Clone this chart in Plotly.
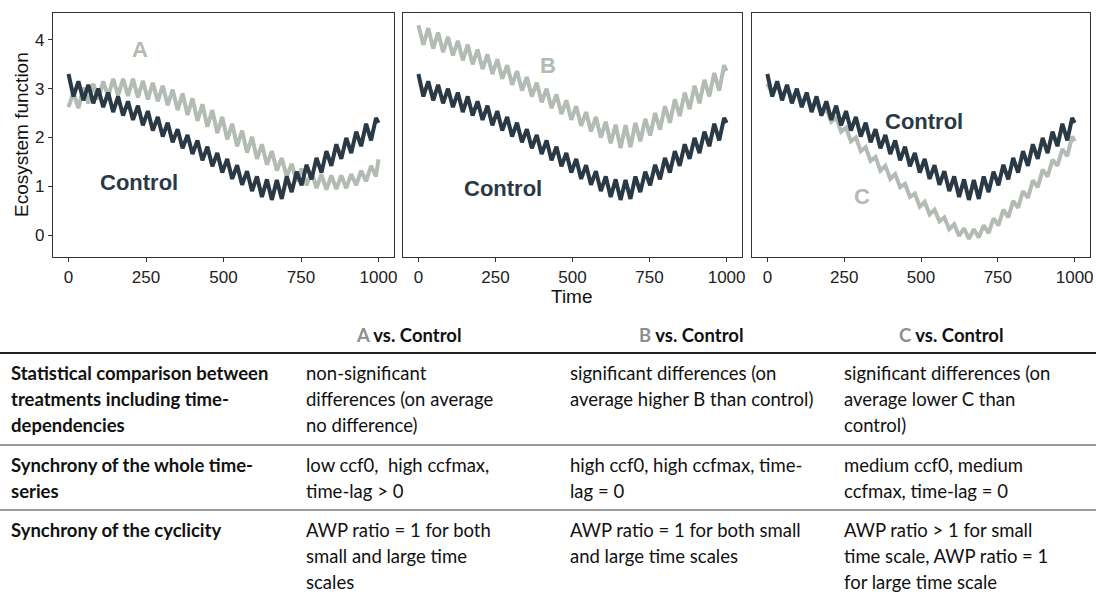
import plotly.graph_objects as go

# ---------------- data ----------------
time = [0, 16, 32, 48, 64, 80, 96, 112, 128, 144, 160, 176, 192, 208, 224, 240,
        256, 272, 288, 304, 320, 336, 352, 368, 384, 400, 416, 432, 448, 464, 480, 496,
        512, 528, 544, 560, 576, 592, 608, 624, 640, 656, 672, 688, 704, 720, 736, 752,
        768, 784, 800, 816, 832, 848, 864, 880, 896, 912, 928, 944, 960, 976, 992, 1000]

control = [3.30, 2.84, 3.15, 2.76, 3.08, 2.70, 3.00, 2.62, 2.92, 2.52, 2.84, 2.45, 2.74, 2.36, 2.65, 2.25,
           2.54, 2.14, 2.42, 2.02, 2.30, 1.90, 2.17, 1.78, 2.05, 1.66, 1.94, 1.53, 1.81, 1.41, 1.68, 1.28,
           1.56, 1.15, 1.43, 1.03, 1.31, 0.90, 1.20, 0.78, 1.14, 0.72, 1.13, 0.74, 1.20, 0.88, 1.30, 1.02,
           1.44, 1.14, 1.58, 1.28, 1.72, 1.42, 1.86, 1.56, 1.99, 1.68, 2.12, 1.82, 2.28, 1.94, 2.40, 2.30]

treat_a = [2.62, 2.92, 2.60, 3.02, 2.70, 3.10, 2.78, 3.15, 2.84, 3.20, 2.86, 3.20, 2.85, 3.20, 2.82, 3.16,
           2.78, 3.12, 2.74, 3.06, 2.66, 2.98, 2.56, 2.90, 2.46, 2.80, 2.34, 2.68, 2.22, 2.56, 2.09, 2.42,
           1.96, 2.28, 1.82, 2.14, 1.69, 2.01, 1.56, 1.86, 1.44, 1.72, 1.32, 1.58, 1.20, 1.46, 1.10, 1.36,
           1.02, 1.29, 0.96, 1.24, 0.93, 1.22, 0.94, 1.22, 0.96, 1.25, 1.02, 1.32, 1.10, 1.42, 1.20, 1.55]

treat_b = [4.30, 3.90, 4.24, 3.82, 4.15, 3.75, 4.06, 3.68, 3.98, 3.58, 3.90, 3.50, 3.80, 3.40, 3.70, 3.30,
           3.60, 3.20, 3.48, 3.08, 3.36, 2.96, 3.24, 2.84, 3.12, 2.72, 3.00, 2.60, 2.88, 2.48, 2.76, 2.36,
           2.64, 2.24, 2.52, 2.12, 2.42, 2.00, 2.32, 1.88, 2.26, 1.78, 2.25, 1.80, 2.30, 1.92, 2.38, 2.04,
           2.50, 2.16, 2.64, 2.30, 2.78, 2.44, 2.92, 2.58, 3.06, 2.70, 3.18, 2.84, 3.32, 2.96, 3.48, 3.36]

treat_c = [3.10, 2.90, 3.08, 2.85, 3.02, 2.80, 2.95, 2.72, 2.85, 2.60, 2.72, 2.48, 2.58, 2.32, 2.40, 2.12,
           2.20, 1.92, 2.00, 1.72, 1.80, 1.52, 1.60, 1.32, 1.42, 1.15, 1.25, 0.98, 1.05, 0.78, 0.85, 0.58,
           0.68, 0.42, 0.52, 0.28, 0.36, 0.12, 0.22, -0.02, 0.14, -0.08, 0.12, -0.05, 0.20, 0.04, 0.34, 0.20,
           0.52, 0.36, 0.70, 0.56, 0.90, 0.76, 1.12, 0.98, 1.34, 1.20, 1.54, 1.42, 1.76, 1.62, 2.02, 1.92]

treat_names = ["A", "B", "C"]
x_ticks = [0, 250, 500, 750, 1000]
y_ticks = [0, 1, 2, 3, 4]

# table content
row_labels = [
    ["Statistical comparison between", "treatments including time-", "dependencies"],
    ["Synchrony of the whole time-", "series"],
    ["Synchrony of the cyclicity"],
]
table_cells = [
    [["non-significant", "differences (on average", "no difference)"],
     ["significant differences (on", "average higher B than control)"],
     ["significant differences (on", "average lower C than", "control)"]],
    [["low ccf0,  high ccfmax,", "time-lag > 0"],
     ["high ccf0, high ccfmax, time-", "lag = 0"],
     ["medium ccf0, medium", "ccfmax, time-lag = 0"]],
    [["AWP ratio = 1 for both", "small and large time", "scales"],
     ["AWP ratio = 1 for both small", "and large time scales"],
     ["AWP ratio > 1 for small", "time scale, AWP ratio = 1", "for large time scale"]],
]

# ---------------- styling ----------------
W, H = 1096, 595
DARK = "#2a3946"
LIGHT = "#b2bbb4"
AXC = "#333333"
CHART_FONT = "Liberation Sans"
TABLE_FONT = "Lato"


def px(x):
    return x / W


def py(y):
    return 1 - y / H


fig = go.Figure()

treatments = [treat_a, treat_b, treat_c]
for i, (name, vals) in enumerate(zip(treat_names, treatments)):
    xa = "x" if i == 0 else f"x{i+1}"
    ya = "y" if i == 0 else f"y{i+1}"
    fig.add_trace(go.Scatter(x=time, y=vals, mode="lines", xaxis=xa, yaxis=ya,
                             line=dict(color=LIGHT, width=4), name=name, showlegend=False))
    fig.add_trace(go.Scatter(x=time, y=control, mode="lines", xaxis=xa, yaxis=ya,
                             line=dict(color=DARK, width=4), name="Control", showlegend=False))

# panel domains (pixels)
panels_x = [(53, 394), (403, 742), (752, 1090)]
y_dom = [py(257), py(13)]
xr = [-50, 1050]
yr = [-0.45, 4.55]

layout = dict(
    width=W, height=H, margin=dict(l=0, r=0, t=0, b=0, autoexpand=False),
    paper_bgcolor="white", plot_bgcolor="white",
    showlegend=False, font=dict(family=CHART_FONT),
)
for i, (a, b) in enumerate(panels_x):
    xk = "xaxis" if i == 0 else f"xaxis{i+1}"
    yk = "yaxis" if i == 0 else f"yaxis{i+1}"
    layout[xk] = dict(
        domain=[px(a), px(b)], range=xr, tickvals=x_ticks, ticks="outside", ticklen=4,
        tickcolor=AXC, tickwidth=1, showline=True, mirror=True, linecolor=AXC, linewidth=1.3,
        showgrid=False, zeroline=False, anchor="y" if i == 0 else f"y{i+1}",
        automargin=False,
        tickfont=dict(family=CHART_FONT, size=17, color="#222"),
    )
    layout[yk] = dict(
        domain=y_dom, range=yr, tickvals=y_ticks, showline=True, mirror=True,
        linecolor=AXC, linewidth=1.3, showgrid=False, zeroline=False,
        anchor="x" if i == 0 else f"x{i+1}", automargin=False,
        ticks="outside" if i == 0 else "", ticklen=4, tickcolor=AXC,
        showticklabels=(i == 0),
        tickfont=dict(family=CHART_FONT, size=17, color="#222"),
    )
fig.update_layout(**layout)

ann = []
# in-panel labels
label_pos = [
    # (panel, text, x, y, color)
    (0, "A", 232, 3.8, LIGHT),
    (0, "Control", 226, 1.08, DARK),
    (1, "B", 419, 3.47, LIGHT),
    (1, "Control", 276, 0.96, DARK),
    (2, "Control", 511, 2.33, DARK),
    (2, "C", 307, 0.78, LIGHT),
]
for p, t, x, y, c in label_pos:
    ann.append(dict(xref="x" if p == 0 else f"x{p+1}", yref="y" if p == 0 else f"y{p+1}",
                    x=x, y=y, text=f"<b>{t}</b>", showarrow=False, xanchor="center",
                    yanchor="middle",
                    font=dict(family=CHART_FONT, size=22, color=c)))

# axis titles
ann.append(dict(xref="paper", yref="paper", x=px(572), y=py(296), text="Time", showarrow=False,
                xanchor="center", yanchor="middle",
                font=dict(family=CHART_FONT, size=19, color="#111")))
ann.append(dict(xref="paper", yref="paper", x=px(22), y=py(135), text="Ecosystem function",
                showarrow=False, textangle=-90, xanchor="center", yanchor="middle",
                font=dict(family=CHART_FONT, size=19, color="#111")))

# table headers
header_x = [409, 691, 951]
for name, hx in zip(treat_names, header_x):
    ann.append(dict(xref="paper", yref="paper", x=px(hx), y=py(335), xanchor="center",
                    yanchor="middle",
                    text=f"<b><span style='color:#8f8f8f'>{name}</span> vs. Control</b>",
                    showarrow=False, font=dict(family=TABLE_FONT, size=18.5, color="#111")))

col_x = [9, 304, 568, 842]
row_y = [373, 465, 530]
LH = 26
for r, ry in enumerate(row_y):
    for k, line in enumerate(row_labels[r]):
        ann.append(dict(xref="paper", yref="paper", x=px(col_x[0]), y=py(ry + k * LH),
                        xanchor="left", yanchor="middle", text=f"<b>{line}</b>", showarrow=False,
                        font=dict(family=TABLE_FONT, size=18.5, color="#111")))
    for c in range(3):
        for k, line in enumerate(table_cells[r][c]):
            ann.append(dict(xref="paper", yref="paper", x=px(col_x[c + 1]), y=py(ry + k * LH),
                            xanchor="left", yanchor="middle", text=line, showarrow=False,
                            font=dict(family=TABLE_FONT, size=18.5, color="#111")))

shapes = [
    dict(type="line", xref="paper", yref="paper", x0=0, x1=1, y0=py(353), y1=py(353),
         line=dict(color="#222", width=2)),
    dict(type="line", xref="paper", yref="paper", x0=0, x1=1, y0=py(445), y1=py(445),
         line=dict(color="#9a9a9a", width=2)),
    dict(type="line", xref="paper", yref="paper", x0=0, x1=1, y0=py(510), y1=py(510),
         line=dict(color="#9a9a9a", width=2)),
]

fig.update_layout(annotations=ann, shapes=shapes)
fig.write_html("out.html")
